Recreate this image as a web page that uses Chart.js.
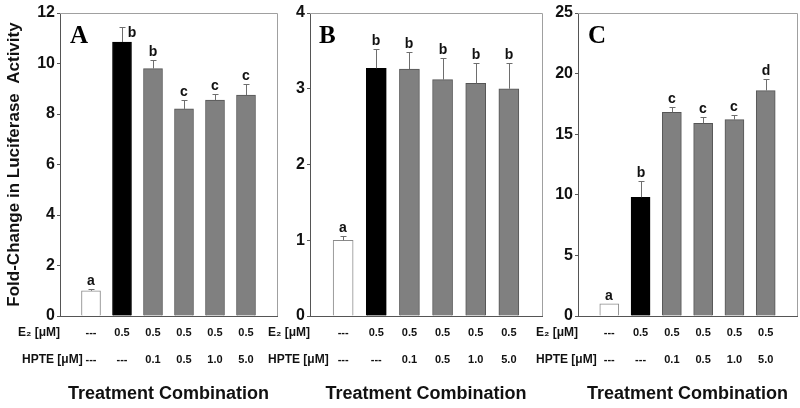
<!DOCTYPE html>
<html>
<head>
<meta charset="utf-8">
<script src="https://cdn.jsdelivr.net/npm/chart.js@4.4.0/dist/chart.umd.min.js"></script>
<style>
  body { margin: 0; background: #fff; width: 800px; height: 408px; position: relative; overflow: hidden; }
  .panel { position: absolute; top: 0; height: 408px; }
</style>
</head>
<body>
<div class="panel" style="left:0;width:285px"><canvas id="chartA"></canvas></div>
<div class="panel" style="left:262px;width:288px"><canvas id="chartB"></canvas></div>
<div class="panel" style="left:530px;width:270px"><canvas id="chartC"></canvas></div>
<script>
// treatment rows shown under every panel
const e2Doses = ['---', '0.5', '0.5', '0.5', '0.5', '0.5'];
const hpteDoses = ['---', '---', '0.1', '0.5', '1.0', '5.0'];
const fillColors = ['#ffffff', '#000000', '#808080', '#808080', '#808080', '#808080'];
const edgeColors = ['#8a8a8a', '#000000', '#555555', '#555555', '#555555', '#555555'];

// panel A
const valuesA = [1.0, 10.85, 9.8, 8.2, 8.55, 8.75];
const errorsA = [0.05, 0.6, 0.35, 0.35, 0.25, 0.45];
const lettersA = ['a', 'b', 'b', 'c', 'c', 'c'];
// panel B
const valuesB = [1.0, 3.27, 3.26, 3.12, 3.07, 3.0];
const errorsB = [0.05, 0.25, 0.23, 0.28, 0.27, 0.34];
const lettersB = ['a', 'b', 'b', 'b', 'b', 'b'];
// panel C
const valuesC = [1.0, 9.8, 16.8, 15.9, 16.2, 18.6];
const errorsC = [0.0, 1.3, 0.45, 0.5, 0.35, 0.95];
const lettersC = ['a', 'b', 'c', 'c', 'c', 'd'];

const SANS = '"Liberation Sans", Arial, sans-serif';
Chart.defaults.font.family = SANS;
Chart.defaults.color = '#111';

// frame, error bars, significance letters, panel letter, row labels
const decorations = {
  id: 'decorations',
  afterDatasetsDraw(chart, args, opts) {
    const { ctx, chartArea: area, scales: { x, y } } = chart;
    ctx.save();
    ctx.lineWidth = 1;
    ctx.strokeStyle = '#a0a0a0';
    ctx.beginPath();
    ctx.moveTo(area.left, area.top + 0.5);
    ctx.lineTo(area.right + 0.5, area.top + 0.5);
    ctx.lineTo(area.right + 0.5, area.bottom);
    ctx.stroke();

    const pts = chart.data.datasets[0].data;
    pts.forEach((pt, i) => {
      const px = Math.round(x.getPixelForValue(pt.x));
      const yTop = y.getPixelForValue(pt.y);
      const yErr = Math.round(y.getPixelForValue(pt.y + opts.errors[i]));
      if (opts.errors[i] > 0) {
        ctx.strokeStyle = '#6e6e6e';
        ctx.beginPath();
        ctx.moveTo(px + 0.5, yTop);
        ctx.lineTo(px + 0.5, yErr);
        ctx.moveTo(px - 2.5, yErr + 0.5);
        ctx.lineTo(px + 3.5, yErr + 0.5);
        ctx.stroke();
      }
      ctx.fillStyle = '#111';
      ctx.font = 'bold 14px ' + SANS;
      ctx.textAlign = 'center';
      ctx.textBaseline = 'alphabetic';
      let lx = px, ly = yErr - 4;
      if (ly - 11 < area.top + 4) { lx = px + 10; ly = yErr + 10; }
      ctx.fillText(opts.letters[i], lx, ly);
    });

    ctx.fillStyle = '#000';
    ctx.textAlign = 'left';
    ctx.font = 'bold 25px "Liberation Serif", "Times New Roman", serif';
    ctx.fillText(opts.panel, area.left + opts.panelDx, area.top + 30);

    ctx.fillStyle = '#111';
    ctx.font = 'bold 12px ' + SANS;
    ctx.textBaseline = 'middle';
    ctx.fillText('E\u2082 [\u03BCM]', area.left + opts.rowDx[0], area.bottom + 17);
    ctx.fillText('HPTE [\u03BCM]', area.left + opts.rowDx[1], area.bottom + 44);
    ctx.restore();
  }
};

function makeChart(id, values, errors, letters, yMax, yStep, cfg) {
  const points = values.map((v, i) => ({ x: i + 1, y: v }));
  return new Chart(document.getElementById(id), {
    type: 'bar',
    data: {
      datasets: [{
        data: points,
        backgroundColor: fillColors,
        borderColor: edgeColors,
        borderWidth: 1,
        barThickness: cfg.barWidth
      }]
    },
    options: {
      responsive: true,
      maintainAspectRatio: false,
      animation: false,
      layout: { padding: { top: 13, right: cfg.rightPad, left: 0, bottom: 0 } },
      plugins: {
        legend: { display: false },
        tooltip: { enabled: false },
        decorations: { errors, letters, panel: cfg.panel, panelDx: cfg.panelDx, rowDx: cfg.rowDx }
      },
      scales: {
        x: {
          type: 'linear',
          min: 0,
          max: 7,
          offset: false,
          afterFit: s => { s.height = 92; },
          grid: { display: false, drawTicks: false, tickLength: 0 },
          border: { display: true, color: '#555', width: 1 },
          ticks: {
            stepSize: 1,
            autoSkip: false,
            maxRotation: 0,
            padding: 3,
            color: '#111',
            font: { size: 11, weight: 'bold', lineHeight: 27 / 11 },
            callback: v => (v >= 1 && v <= 6) ? [e2Doses[v - 1], hpteDoses[v - 1]] : ''
          },
          title: {
            display: true,
            text: 'Treatment Combination',
            color: '#111',
            font: { size: 18, weight: 'bold' },
            padding: { top: 4, bottom: 3 }
          }
        },
        y: {
          min: 0,
          max: yMax,
          afterFit: s => { s.width = cfg.yWidth; },
          grid: { display: true, drawOnChartArea: false, drawTicks: true, tickLength: 3, color: '#555' },
          border: { display: true, color: '#555', width: 1 },
          ticks: { stepSize: yStep, padding: 2, color: '#111', font: { size: 16, weight: 'bold' } },
          title: {
            display: !!cfg.yTitle,
            text: cfg.yTitle || '',
            color: '#111',
            font: { size: 17, weight: 'bold' },
            padding: { top: 4, bottom: 0 }
          }
        }
      }
    },
    plugins: [decorations]
  });
}

makeChart('chartA', valuesA, errorsA, lettersA, 12, 2, {
  panel: 'A', panelDx: 10, rowDx: [-42, -38], barWidth: 19, rightPad: 8, yWidth: 60,
  yTitle: 'Fold-Change in Luciferase  Activity'
});
makeChart('chartB', valuesB, errorsB, lettersB, 4, 1, {
  panel: 'B', panelDx: 9, rowDx: [-42, -42], barWidth: 20, rightPad: 8, yWidth: 48
});
makeChart('chartC', valuesC, errorsC, lettersC, 25, 5, {
  panel: 'C', panelDx: 10, rowDx: [-42, -42], barWidth: 19, rightPad: 3, yWidth: 48
});
</script>
</body>
</html>
